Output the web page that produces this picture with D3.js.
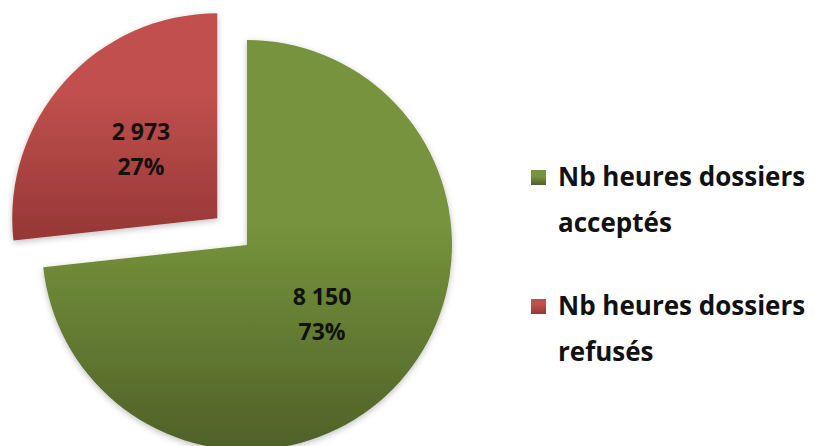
<!DOCTYPE html>
<html lang="fr">
<head>
    <meta charset="UTF-8">
    <title>Nb heures dossiers</title>
    <script src="https://d3js.org/d3.v7.min.js"></script>
    <style>
        body {
            margin: 0;
            background-color: #ffffff;
            font-family: 'Open Sans', 'Noto Sans', Arial, sans-serif;
        }
        .label text {
            font-weight: 700;
            fill: #111;
        }
    </style>
</head>
<body>
    <svg width="814" height="446" class="chart"></svg>

    <script>
        // Data
        const categories = ["Nb heures dossiers acceptés", "Nb heures dossiers refusés"];
        const legendLines = [["Nb heures dossiers", "acceptés"], ["Nb heures dossiers", "refusés"]];
        const values = [8150, 2973];
        const valueLabels = ["8 150", "2 973"];
        const percentLabels = ["73%", "27%"];

        const lightColors = ["#77933c", "#c0504d"];
        const darkColors = ["#4e6128", "#953735"];

        const svg = d3.select(".chart");
        const cx = 247, cy = 245, radius = 205, explode = 40;

        // gradients per slice (vertical, like the office style)
        const defs = svg.append("defs");
        categories.forEach((c, i) => {
            const g = defs.append("linearGradient")
                .attr("id", "grad" + i)
                .attr("x1", 0).attr("y1", 0).attr("x2", 0).attr("y2", 1);
            g.append("stop").attr("offset", "0%").attr("stop-color", lightColors[i]);
            g.append("stop").attr("offset", i === 0 ? "45%" : "35%").attr("stop-color", lightColors[i]);
            g.append("stop").attr("offset", "100%").attr("stop-color", darkColors[i]);
        });
        const shadow = defs.append("filter").attr("id", "shadow")
            .attr("x", "-10%").attr("y", "-10%").attr("width", "120%").attr("height", "120%");
        shadow.append("feDropShadow")
            .attr("dx", 0).attr("dy", 2).attr("stdDeviation", 3)
            .attr("flood-color", "#000").attr("flood-opacity", 0.25);

        const pie = d3.pie().sort(null).value(d => d);
        const arcs = pie(values);
        const arc = d3.arc().innerRadius(0).outerRadius(radius);

        // offset of each slice (only refusés is pulled out)
        const offset = (d, i) => {
            if (i !== 1) return [0, 0];
            const a = (d.startAngle + d.endAngle) / 2;
            return [explode * Math.sin(a), -explode * Math.cos(a)];
        };

        const slices = svg.append("g")
            .attr("transform", `translate(${cx}, ${cy})`);

        slices.selectAll("path")
            .data(arcs)
            .enter()
            .append("path")
            .attr("d", arc)
            .attr("transform", (d, i) => `translate(${offset(d, i)})`)
            .attr("fill", (d, i) => `url(#grad${i})`)
            .attr("filter", "url(#shadow)");

        // slice labels
        const labelArc = d3.arc().innerRadius(radius * 0.5).outerRadius(radius * 0.5);
        const labels = slices.append("g").attr("class", "label")
            .selectAll("g")
            .data(arcs)
            .enter()
            .append("g")
            .attr("transform", (d, i) => {
                const o = offset(d, i);
                const p = labelArc.centroid(d);
                return i === 0 ? `translate(${75}, ${70})` : `translate(${p[0] + o[0]}, ${p[1] + o[1]})`;
            });
        labels.append("text")
            .attr("text-anchor", "middle")
            .attr("y", -10)
            .style("font-size", "23px")
            .text((d, i) => valueLabels[i]);
        labels.append("text")
            .attr("text-anchor", "middle")
            .attr("y", 25)
            .style("font-size", "23px")
            .text((d, i) => percentLabels[i]);

        // legend
        const legend = svg.append("g").attr("class", "legend")
            .attr("transform", "translate(531, 0)");
        const legendY = [169, 298];
        const item = legend.selectAll("g")
            .data(categories)
            .enter()
            .append("g")
            .attr("transform", (d, i) => `translate(0, ${legendY[i]})`);
        item.append("rect")
            .attr("width", 15)
            .attr("height", 15)
            .attr("y", 1)
            .attr("fill", (d, i) => `url(#grad${i})`);
        item.selectAll("text")
            .data((d, i) => legendLines[i])
            .enter()
            .append("text")
            .attr("x", 27)
            .attr("y", (d, j) => 17 + j * 46)
            .style("font-size", "26px")
            .style("font-weight", 700)
            .style("fill", "#111")
            .text(d => d);
    </script>
</body>
</html>
